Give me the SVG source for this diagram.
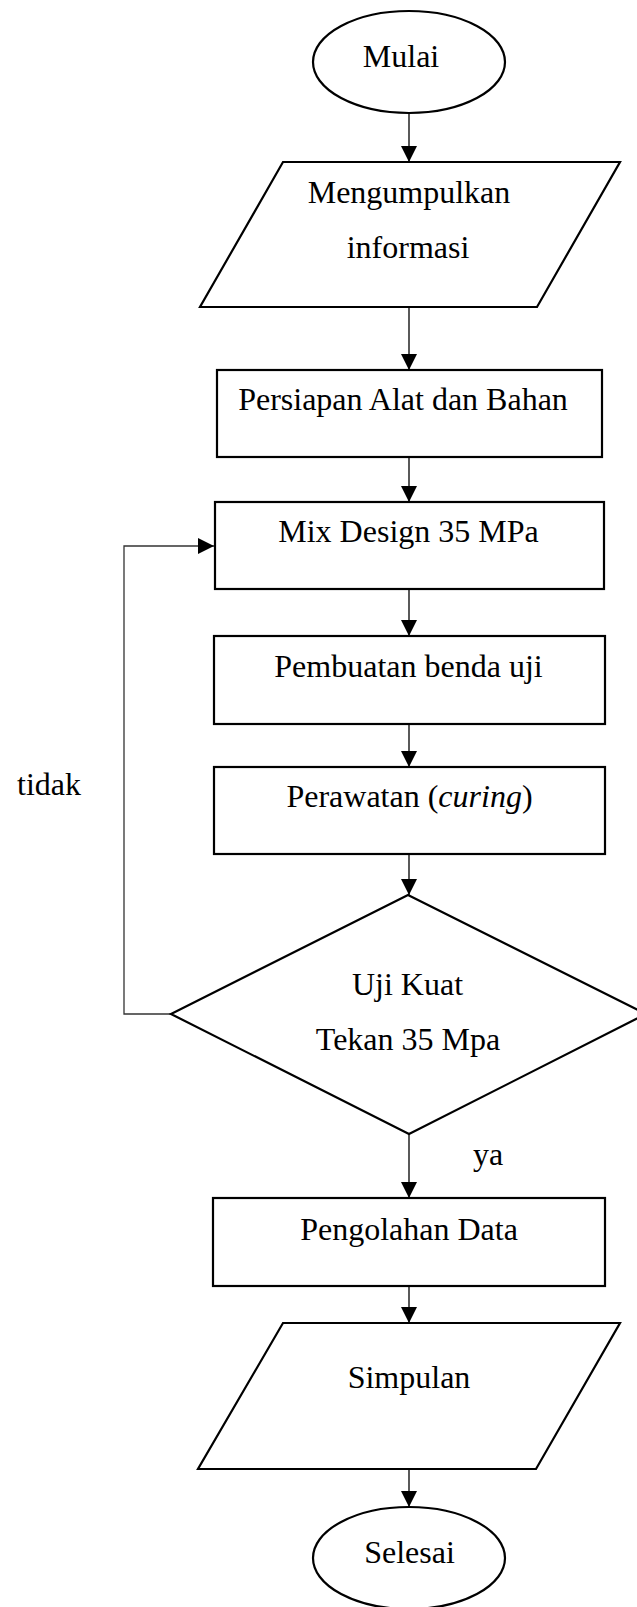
<svg xmlns="http://www.w3.org/2000/svg" width="637" height="1607" viewBox="0 0 637 1607">
  <style>
    .shape { fill: #ffffff; stroke: #000000; stroke-width: 2.2; }
    .label { font-family: "Liberation Serif", "Times New Roman", serif; font-size: 32px; fill: #000000; text-anchor: middle; }
    .free { text-anchor: start; }
    .link { fill: none; stroke: #000000; stroke-width: 1.3; }
    .loop { fill: none; stroke: #333333; stroke-width: 1.3; }
  </style>
  <defs>
    <marker id="arrow" markerUnits="userSpaceOnUse" markerWidth="16" markerHeight="16" viewBox="0 0 14 14" refX="14" refY="7" orient="auto">
      <polygon points="0,0 14,7 0,14" fill="#000000"/>
    </marker>
  </defs>

  <rect width="637" height="1607" fill="#ffffff"/>

  <!-- connectors -->
  <g id="connectors">
    <line class="link" x1="409" y1="113" x2="409" y2="162" marker-end="url(#arrow)"/>
    <line class="link" x1="409" y1="307" x2="409" y2="370" marker-end="url(#arrow)"/>
    <line class="link" x1="409" y1="457" x2="409" y2="502" marker-end="url(#arrow)"/>
    <line class="link" x1="409" y1="589" x2="409" y2="636" marker-end="url(#arrow)"/>
    <line class="link" x1="409" y1="724" x2="409" y2="767" marker-end="url(#arrow)"/>
    <line class="link" x1="409" y1="854" x2="409" y2="895" marker-end="url(#arrow)"/>
    <line class="link" x1="409" y1="1134" x2="409" y2="1198" marker-end="url(#arrow)"/>
    <line class="link" x1="409" y1="1286" x2="409" y2="1323" marker-end="url(#arrow)"/>
    <line class="link" x1="409" y1="1469" x2="409" y2="1507" marker-end="url(#arrow)"/>
    <polyline class="loop" points="171,1014 124,1014 124,546 214,546" marker-end="url(#arrow)"/>
    <text class="label free" x="17" y="795">tidak</text>
    <text class="label free" x="473" y="1165">ya</text>
  </g>

  <g id="start">
    <ellipse class="shape" cx="409" cy="62" rx="96" ry="51"/>
    <text class="label" x="401" y="67">Mulai</text>
  </g>

  <g id="collect-info">
    <polygon class="shape" points="283,162 620,162 537,307 200,307"/>
    <text class="label" x="409" y="203">Mengumpulkan</text>
    <text class="label" x="408" y="258">informasi</text>
  </g>

  <g id="prepare">
    <rect class="shape" x="217" y="370" width="385" height="87"/>
    <text class="label" x="403" y="410">Persiapan Alat dan Bahan</text>
  </g>

  <g id="mix-design">
    <rect class="shape" x="215" y="502" width="389" height="87"/>
    <text class="label" x="408.5" y="542">Mix Design 35 MPa</text>
  </g>

  <g id="specimens">
    <rect class="shape" x="214" y="636" width="391" height="88"/>
    <text class="label" x="408.5" y="677">Pembuatan benda uji</text>
  </g>

  <g id="curing">
    <rect class="shape" x="214" y="767" width="391" height="87"/>
    <text class="label" x="409.5" y="807">Perawatan (<tspan font-style="italic">curing</tspan>)</text>
  </g>

  <g id="strength-test">
    <polygon class="shape" points="408,895 646,1014 409,1134 171,1014"/>
    <text class="label" x="407.5" y="995">Uji Kuat</text>
    <text class="label" x="408" y="1050">Tekan 35 Mpa</text>
  </g>

  <g id="data-processing">
    <rect class="shape" x="213" y="1198" width="392" height="88"/>
    <text class="label" x="409" y="1240">Pengolahan Data</text>
  </g>

  <g id="conclusion">
    <polygon class="shape" points="283,1323 620,1323 536,1469 198,1469"/>
    <text class="label" x="409" y="1388">Simpulan</text>
  </g>

  <g id="end">
    <ellipse class="shape" cx="409" cy="1558" rx="96" ry="51"/>
    <text class="label" x="409.5" y="1563">Selesai</text>
  </g>
</svg>
